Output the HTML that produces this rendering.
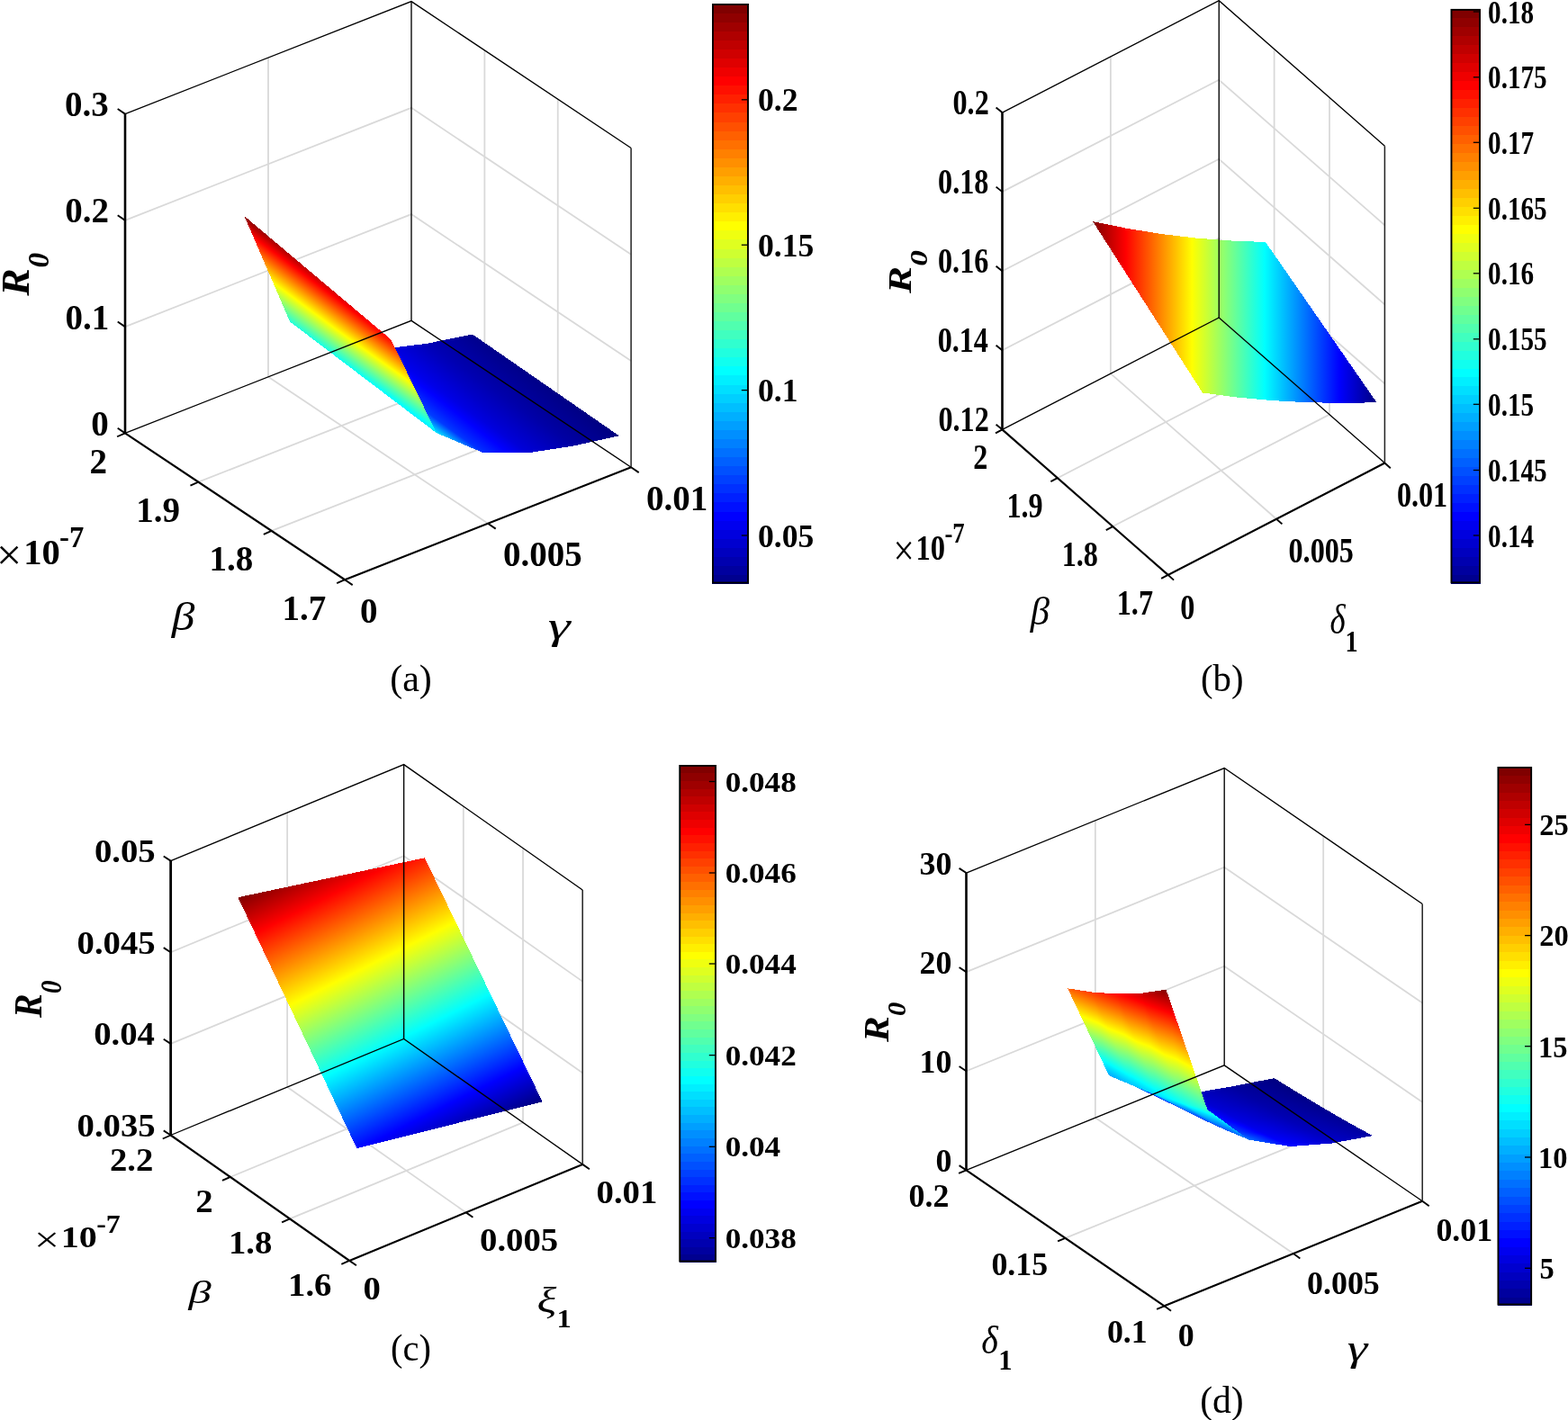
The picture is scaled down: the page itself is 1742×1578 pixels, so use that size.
<!DOCTYPE html>
<html lang="en"><head><meta charset="utf-8"><title>R0 sensitivity surfaces</title>
<style>html,body{margin:0;padding:0;background:#fff;overflow:hidden}svg{display:block}text{white-space:pre}</style></head>
<body>
<svg width="1742" height="1578" viewBox="0 0 1742 1578" font-family="Liberation Serif, serif" fill="#000" style="font-kerning:none">
<defs>
<linearGradient id="g1" gradientUnits="userSpaceOnUse" x1="659.59" y1="469.04" x2="17.05" y2="1225.1"><stop offset="0%" stop-color="#000080"/><stop offset="7.4%" stop-color="#0000cb"/></linearGradient>
<linearGradient id="g2" gradientUnits="userSpaceOnUse" x1="662.72" y1="463.94" x2="-69.32" y2="1365.65"><stop offset="0%" stop-color="#000080"/><stop offset="5.5%" stop-color="#0000b8"/></linearGradient>
<linearGradient id="g3" gradientUnits="userSpaceOnUse" x1="622.19" y1="460.8" x2="206.04" y2="955.04"><stop offset="3.4%" stop-color="#0000a2"/><stop offset="12.5%" stop-color="#0000ff"/><stop offset="13.2%" stop-color="#0007ff"/></linearGradient>
<linearGradient id="g4" gradientUnits="userSpaceOnUse" x1="626.69" y1="453.54" x2="158.23" y2="1032.11"><stop offset="1.5%" stop-color="#00008f"/><stop offset="10.6%" stop-color="#0000ec"/></linearGradient>
<linearGradient id="g5" gradientUnits="userSpaceOnUse" x1="568.45" y1="462.32" x2="379.15" y2="695.73"><stop offset="9.2%" stop-color="#0000dd"/><stop offset="12.5%" stop-color="#0000ff"/><stop offset="23%" stop-color="#006bff"/></linearGradient>
<linearGradient id="g6" gradientUnits="userSpaceOnUse" x1="573.17" y1="454.57" x2="356.6" y2="732.76"><stop offset="6.6%" stop-color="#0000c3"/><stop offset="12.5%" stop-color="#0000ff"/><stop offset="19.3%" stop-color="#0045ff"/></linearGradient>
<linearGradient id="g7" gradientUnits="userSpaceOnUse" x1="495.39" y1="467.92" x2="465.63" y2="505.96"><stop offset="19%" stop-color="#0042ff"/><stop offset="37.5%" stop-color="#00ffff"/><stop offset="43%" stop-color="#38ffc7"/></linearGradient>
<linearGradient id="g8" gradientUnits="userSpaceOnUse" x1="500.41" y1="460.49" x2="456.26" y2="519.83"><stop offset="15.3%" stop-color="#001dff"/><stop offset="36.9%" stop-color="#00f9ff"/></linearGradient>
<linearGradient id="g9" gradientUnits="userSpaceOnUse" x1="376.84" y1="454.59" x2="442.73" y2="365.84"><stop offset="39%" stop-color="#0ffff0"/><stop offset="62.5%" stop-color="#ffff00"/><stop offset="87.5%" stop-color="#ff0000"/><stop offset="100%" stop-color="#800000"/></linearGradient>
<linearGradient id="g10" gradientUnits="userSpaceOnUse" x1="380.79" y1="452.49" x2="442.15" y2="366.15"><stop offset="32.9%" stop-color="#00d0ff"/><stop offset="37.5%" stop-color="#00ffff"/><stop offset="62.5%" stop-color="#ffff00"/><stop offset="87.5%" stop-color="#ff0000"/><stop offset="89.2%" stop-color="#ee0000"/></linearGradient>
<linearGradient id="g11" gradientUnits="userSpaceOnUse" x1="1214" y1="0" x2="1529.5" y2="0"><stop offset="0%" stop-color="#800000"/><stop offset="11.65%" stop-color="#ff0000"/><stop offset="34.96%" stop-color="#ffff00"/><stop offset="60.51%" stop-color="#00ffff"/><stop offset="86.84%" stop-color="#0000ff"/><stop offset="100%" stop-color="#000080"/></linearGradient>
<linearGradient id="g12" gradientUnits="userSpaceOnUse" x1="565.6" y1="1242.98" x2="405.42" y2="925.95"><stop offset="0.6%" stop-color="#000086"/><stop offset="12.5%" stop-color="#0000ff"/><stop offset="37.5%" stop-color="#00ffff"/><stop offset="62.5%" stop-color="#ffff00"/><stop offset="87.5%" stop-color="#ff0000"/><stop offset="89.76%" stop-color="#e80000"/></linearGradient>
<linearGradient id="g13" gradientUnits="userSpaceOnUse" x1="565.58" y1="1243" x2="406.36" y2="925.27"><stop offset="0%" stop-color="#000080"/><stop offset="12.5%" stop-color="#0000ff"/><stop offset="37.5%" stop-color="#00ffff"/><stop offset="62.5%" stop-color="#ffff00"/><stop offset="86.7%" stop-color="#ff0800"/></linearGradient>
<linearGradient id="g14" gradientUnits="userSpaceOnUse" x1="528.5" y1="1261.56" x2="368.44" y2="944.65"><stop offset="3.2%" stop-color="#0000a0"/><stop offset="12.5%" stop-color="#0000ff"/><stop offset="37.5%" stop-color="#00ffff"/><stop offset="62.5%" stop-color="#ffff00"/><stop offset="87.5%" stop-color="#ff0000"/><stop offset="92.82%" stop-color="#c90000"/></linearGradient>
<linearGradient id="g15" gradientUnits="userSpaceOnUse" x1="528.45" y1="1261.6" x2="369.35" y2="944"><stop offset="0.6%" stop-color="#000086"/><stop offset="12.5%" stop-color="#0000ff"/><stop offset="37.5%" stop-color="#00ffff"/><stop offset="62.5%" stop-color="#ffff00"/><stop offset="87.5%" stop-color="#ff0000"/><stop offset="89.76%" stop-color="#e80000"/></linearGradient>
<linearGradient id="g16" gradientUnits="userSpaceOnUse" x1="491.4" y1="1280.13" x2="331.44" y2="963.35"><stop offset="5.8%" stop-color="#0000bb"/><stop offset="12.5%" stop-color="#0000ff"/><stop offset="37.5%" stop-color="#00ffff"/><stop offset="62.5%" stop-color="#ffff00"/><stop offset="87.5%" stop-color="#ff0000"/><stop offset="95.88%" stop-color="#aa0000"/></linearGradient>
<linearGradient id="g17" gradientUnits="userSpaceOnUse" x1="491.32" y1="1280.18" x2="332.32" y2="962.71"><stop offset="3.2%" stop-color="#0000a0"/><stop offset="12.5%" stop-color="#0000ff"/><stop offset="37.5%" stop-color="#00ffff"/><stop offset="62.5%" stop-color="#ffff00"/><stop offset="87.5%" stop-color="#ff0000"/><stop offset="92.82%" stop-color="#c90000"/></linearGradient>
<linearGradient id="g18" gradientUnits="userSpaceOnUse" x1="454.28" y1="1298.69" x2="294.44" y2="982.04"><stop offset="8.4%" stop-color="#0000d5"/><stop offset="12.5%" stop-color="#0000ff"/><stop offset="37.5%" stop-color="#00ffff"/><stop offset="62.5%" stop-color="#ffff00"/><stop offset="87.5%" stop-color="#ff0000"/><stop offset="98.94%" stop-color="#8a0000"/></linearGradient>
<linearGradient id="g19" gradientUnits="userSpaceOnUse" x1="454.19" y1="1298.76" x2="295.29" y2="981.42"><stop offset="5.8%" stop-color="#0000bb"/><stop offset="12.5%" stop-color="#0000ff"/><stop offset="37.5%" stop-color="#00ffff"/><stop offset="62.5%" stop-color="#ffff00"/><stop offset="87.5%" stop-color="#ff0000"/><stop offset="95.88%" stop-color="#aa0000"/></linearGradient>
<linearGradient id="g20" gradientUnits="userSpaceOnUse" x1="417.17" y1="1317.25" x2="257.43" y2="1000.72"><stop offset="11%" stop-color="#0000f0"/><stop offset="12.5%" stop-color="#0000ff"/><stop offset="37.5%" stop-color="#00ffff"/><stop offset="62.5%" stop-color="#ffff00"/><stop offset="87.5%" stop-color="#ff0000"/><stop offset="100%" stop-color="#800000"/></linearGradient>
<linearGradient id="g21" gradientUnits="userSpaceOnUse" x1="417.04" y1="1317.34" x2="258.25" y2="1000.12"><stop offset="8.4%" stop-color="#0000d5"/><stop offset="12.5%" stop-color="#0000ff"/><stop offset="37.5%" stop-color="#00ffff"/><stop offset="62.5%" stop-color="#ffff00"/><stop offset="87.5%" stop-color="#ff0000"/><stop offset="98.94%" stop-color="#8a0000"/></linearGradient>
<linearGradient id="g22" gradientUnits="userSpaceOnUse" x1="1488.78" y1="1232.27" x2="1363.07" y2="1730.09"><stop offset="0.38%" stop-color="#000083"/><stop offset="9.7%" stop-color="#0000e2"/></linearGradient>
<linearGradient id="g23" gradientUnits="userSpaceOnUse" x1="1490.15" y1="1232.07" x2="1346.68" y2="1732.45"><stop offset="0.38%" stop-color="#000083"/><stop offset="9.7%" stop-color="#0000e2"/></linearGradient>
<linearGradient id="g24" gradientUnits="userSpaceOnUse" x1="1461.83" y1="1220.37" x2="1298.91" y2="1791.25"><stop offset="0%" stop-color="#000080"/><stop offset="8.17%" stop-color="#0000d3"/></linearGradient>
<linearGradient id="g25" gradientUnits="userSpaceOnUse" x1="1463.92" y1="1220.28" x2="1267.21" y2="1792.64"><stop offset="0%" stop-color="#000080"/><stop offset="8.17%" stop-color="#0000d3"/></linearGradient>
<linearGradient id="g26" gradientUnits="userSpaceOnUse" x1="1434.37" y1="1207.91" x2="1232.01" y2="1861.88"><stop offset="0%" stop-color="#000080"/><stop offset="6.9%" stop-color="#0000c6"/></linearGradient>
<linearGradient id="g27" gradientUnits="userSpaceOnUse" x1="1436.83" y1="1207.99" x2="1184.18" y2="1860.41"><stop offset="0%" stop-color="#000080"/><stop offset="6.9%" stop-color="#0000c6"/></linearGradient>
<linearGradient id="g28" gradientUnits="userSpaceOnUse" x1="1406.49" y1="1195.09" x2="1161.63" y2="1945.46"><stop offset="0%" stop-color="#000080"/><stop offset="5.82%" stop-color="#0000bb"/></linearGradient>
<linearGradient id="g29" gradientUnits="userSpaceOnUse" x1="1409.12" y1="1195.33" x2="1095.43" y2="1939.61"><stop offset="0%" stop-color="#000080"/><stop offset="5.82%" stop-color="#0000bb"/></linearGradient>
<linearGradient id="g30" gradientUnits="userSpaceOnUse" x1="1443.84" y1="1233.34" x2="1363.87" y2="1539.83"><stop offset="4.17%" stop-color="#0000aa"/><stop offset="12.5%" stop-color="#0000ff"/><stop offset="15.3%" stop-color="#001dff"/></linearGradient>
<linearGradient id="g31" gradientUnits="userSpaceOnUse" x1="1447.83" y1="1232.55" x2="1337.81" y2="1544.96"><stop offset="4.17%" stop-color="#0000aa"/><stop offset="12.5%" stop-color="#0000ff"/><stop offset="15.3%" stop-color="#001dff"/></linearGradient>
<linearGradient id="g32" gradientUnits="userSpaceOnUse" x1="1417.89" y1="1218.36" x2="1311.6" y2="1590.61"><stop offset="2.9%" stop-color="#00009d"/><stop offset="12.5%" stop-color="#0000ff"/><stop offset="13.31%" stop-color="#0008ff"/></linearGradient>
<linearGradient id="g33" gradientUnits="userSpaceOnUse" x1="1421.74" y1="1217.97" x2="1281.4" y2="1593.67"><stop offset="2.9%" stop-color="#00009d"/><stop offset="12.5%" stop-color="#0000ff"/><stop offset="13.31%" stop-color="#0008ff"/></linearGradient>
<linearGradient id="g34" gradientUnits="userSpaceOnUse" x1="1391.52" y1="1203.74" x2="1256.92" y2="1641.42"><stop offset="1.82%" stop-color="#000092"/><stop offset="11.64%" stop-color="#0000f6"/></linearGradient>
<linearGradient id="g35" gradientUnits="userSpaceOnUse" x1="1395.14" y1="1203.65" x2="1223.01" y2="1642.3"><stop offset="1.82%" stop-color="#000092"/><stop offset="11.64%" stop-color="#0000f6"/></linearGradient>
<linearGradient id="g36" gradientUnits="userSpaceOnUse" x1="1364.75" y1="1189.4" x2="1200.22" y2="1692.16"><stop offset="0.9%" stop-color="#000089"/><stop offset="10.22%" stop-color="#0000e8"/></linearGradient>
<linearGradient id="g37" gradientUnits="userSpaceOnUse" x1="1368.08" y1="1189.53" x2="1162.98" y2="1690.81"><stop offset="0.9%" stop-color="#000089"/><stop offset="10.22%" stop-color="#0000e8"/></linearGradient>
<linearGradient id="g38" gradientUnits="userSpaceOnUse" x1="1393.83" y1="1245.65" x2="1366.03" y2="1334.36"><stop offset="9.31%" stop-color="#0000de"/><stop offset="12.5%" stop-color="#0000ff"/><stop offset="25.5%" stop-color="#0085ff"/></linearGradient>
<linearGradient id="g39" gradientUnits="userSpaceOnUse" x1="1396.76" y1="1243.84" x2="1356.52" y2="1340.28"><stop offset="9.31%" stop-color="#0000de"/><stop offset="12.5%" stop-color="#0000ff"/><stop offset="25.5%" stop-color="#0085ff"/></linearGradient>
<linearGradient id="g40" gradientUnits="userSpaceOnUse" x1="1368.77" y1="1229.03" x2="1326.04" y2="1355.66"><stop offset="7.64%" stop-color="#0000cd"/><stop offset="12.5%" stop-color="#0000ff"/><stop offset="22.59%" stop-color="#0067ff"/></linearGradient>
<linearGradient id="g41" gradientUnits="userSpaceOnUse" x1="1371.85" y1="1227.81" x2="1314.17" y2="1360.34"><stop offset="7.64%" stop-color="#0000cd"/><stop offset="12.5%" stop-color="#0000ff"/><stop offset="22.59%" stop-color="#0067ff"/></linearGradient>
<linearGradient id="g42" gradientUnits="userSpaceOnUse" x1="1343.33" y1="1212.68" x2="1284.51" y2="1376.61"><stop offset="6.22%" stop-color="#0000bf"/><stop offset="12.5%" stop-color="#0000ff"/><stop offset="20.15%" stop-color="#004eff"/></linearGradient>
<linearGradient id="g43" gradientUnits="userSpaceOnUse" x1="1346.41" y1="1211.93" x2="1270.59" y2="1380.02"><stop offset="6.22%" stop-color="#0000bf"/><stop offset="12.5%" stop-color="#0000ff"/><stop offset="20.15%" stop-color="#004eff"/></linearGradient>
<linearGradient id="g44" gradientUnits="userSpaceOnUse" x1="1317.51" y1="1196.54" x2="1241.72" y2="1397.19"><stop offset="5%" stop-color="#0000b2"/><stop offset="12.5%" stop-color="#0000ff"/><stop offset="18.08%" stop-color="#0039ff"/></linearGradient>
<linearGradient id="g45" gradientUnits="userSpaceOnUse" x1="1320.53" y1="1196.13" x2="1225.99" y2="1399.33"><stop offset="5%" stop-color="#0000b2"/><stop offset="12.5%" stop-color="#0000ff"/><stop offset="18.08%" stop-color="#0039ff"/></linearGradient>
<linearGradient id="g46" gradientUnits="userSpaceOnUse" x1="1331.91" y1="1259.01" x2="1354.03" y2="1198.38"><stop offset="18.59%" stop-color="#003eff"/><stop offset="37.5%" stop-color="#00ffff"/><stop offset="44.9%" stop-color="#4bffb4"/></linearGradient>
<linearGradient id="g47" gradientUnits="userSpaceOnUse" x1="1331.51" y1="1253.6" x2="1354.56" y2="1205.58"><stop offset="18.59%" stop-color="#003eff"/><stop offset="37.5%" stop-color="#00ffff"/><stop offset="44.9%" stop-color="#4bffb4"/></linearGradient>
<linearGradient id="g48" gradientUnits="userSpaceOnUse" x1="1308.22" y1="1241.25" x2="1323.43" y2="1201.79"><stop offset="16.15%" stop-color="#0025ff"/><stop offset="37.5%" stop-color="#00ffff"/><stop offset="40.49%" stop-color="#1fffe0"/></linearGradient>
<linearGradient id="g49" gradientUnits="userSpaceOnUse" x1="1308.67" y1="1236.99" x2="1322.72" y2="1208.6"><stop offset="16.15%" stop-color="#0025ff"/><stop offset="37.5%" stop-color="#00ffff"/><stop offset="40.49%" stop-color="#1fffe0"/></linearGradient>
<linearGradient id="g50" gradientUnits="userSpaceOnUse" x1="1284.1" y1="1223.75" x2="1291.71" y2="1204.93"><stop offset="14.08%" stop-color="#0010ff"/><stop offset="36.8%" stop-color="#00f8ff"/></linearGradient>
<linearGradient id="g51" gradientUnits="userSpaceOnUse" x1="1285.12" y1="1220.41" x2="1289.8" y2="1211.19"><stop offset="14.08%" stop-color="#0010ff"/><stop offset="36.8%" stop-color="#00f8ff"/></linearGradient>
<linearGradient id="g52" gradientUnits="userSpaceOnUse" x1="1259.6" y1="1206.44" x2="1259.05" y2="1207.73"><stop offset="12.3%" stop-color="#0000fd"/><stop offset="12.5%" stop-color="#0000ff"/><stop offset="33.68%" stop-color="#00d8ff"/></linearGradient>
<linearGradient id="g53" gradientUnits="userSpaceOnUse" x1="1260.98" y1="1203.84" x2="1256.06" y2="1213.32"><stop offset="12.3%" stop-color="#0000fd"/><stop offset="12.5%" stop-color="#0000ff"/><stop offset="33.68%" stop-color="#00d8ff"/></linearGradient>
<linearGradient id="g54" gradientUnits="userSpaceOnUse" x1="1233.54" y1="1272.1" x2="1295.5" y2="1099.6"><stop offset="36.49%" stop-color="#00f5ff"/><stop offset="37.5%" stop-color="#00ffff"/><stop offset="62.5%" stop-color="#ffff00"/><stop offset="87.5%" stop-color="#ff0000"/><stop offset="100%" stop-color="#800000"/></linearGradient>
<linearGradient id="g55" gradientUnits="userSpaceOnUse" x1="1215.16" y1="1243.47" x2="1295.5" y2="1099.6"><stop offset="36.49%" stop-color="#00f5ff"/><stop offset="37.5%" stop-color="#00ffff"/><stop offset="62.5%" stop-color="#ffff00"/><stop offset="87.5%" stop-color="#ff0000"/><stop offset="100%" stop-color="#800000"/></linearGradient>
<linearGradient id="g56" gradientUnits="userSpaceOnUse" x1="1212.8" y1="1253.86" x2="1272.45" y2="1092.16"><stop offset="32.8%" stop-color="#00cfff"/><stop offset="37.5%" stop-color="#00ffff"/><stop offset="62.5%" stop-color="#ffff00"/><stop offset="87.5%" stop-color="#ff0000"/><stop offset="94.83%" stop-color="#b40000"/></linearGradient>
<linearGradient id="g57" gradientUnits="userSpaceOnUse" x1="1197.7" y1="1228.77" x2="1273.62" y2="1094.09"><stop offset="32.8%" stop-color="#00cfff"/><stop offset="37.5%" stop-color="#00ffff"/><stop offset="62.5%" stop-color="#ffff00"/><stop offset="87.5%" stop-color="#ff0000"/><stop offset="94.83%" stop-color="#b40000"/></linearGradient>
<linearGradient id="g58" gradientUnits="userSpaceOnUse" x1="1191.12" y1="1235.56" x2="1248.33" y2="1084.8"><stop offset="29.68%" stop-color="#00afff"/><stop offset="37.5%" stop-color="#00ffff"/><stop offset="62.5%" stop-color="#ffff00"/><stop offset="87.5%" stop-color="#ff0000"/><stop offset="88.93%" stop-color="#f00000"/></linearGradient>
<linearGradient id="g59" gradientUnits="userSpaceOnUse" x1="1178.79" y1="1213.58" x2="1250.18" y2="1088.11"><stop offset="29.68%" stop-color="#00afff"/><stop offset="37.5%" stop-color="#00ffff"/><stop offset="62.5%" stop-color="#ffff00"/><stop offset="87.5%" stop-color="#ff0000"/><stop offset="88.93%" stop-color="#f00000"/></linearGradient>
<linearGradient id="g60" gradientUnits="userSpaceOnUse" x1="1168.69" y1="1217.25" x2="1223.33" y2="1077.46"><stop offset="27%" stop-color="#0094ff"/><stop offset="37.5%" stop-color="#00ffff"/><stop offset="62.5%" stop-color="#ffff00"/><stop offset="84.06%" stop-color="#ff2300"/></linearGradient>
<linearGradient id="g61" gradientUnits="userSpaceOnUse" x1="1158.7" y1="1198.03" x2="1225.51" y2="1081.66"><stop offset="27%" stop-color="#0094ff"/><stop offset="37.5%" stop-color="#00ffff"/><stop offset="62.5%" stop-color="#ffff00"/><stop offset="84.06%" stop-color="#ff2300"/></linearGradient>
</defs>
<line x1="301.73" y1="589.92" x2="619.73" y2="464.92" stroke="#d9d9d9" stroke-width="1.8" stroke-linecap="butt"/>
<line x1="619.73" y1="464.92" x2="619.73" y2="110.17" stroke="#d9d9d9" stroke-width="1.8" stroke-linecap="butt"/>
<line x1="220.37" y1="535.63" x2="538.37" y2="410.63" stroke="#d9d9d9" stroke-width="1.8" stroke-linecap="butt"/>
<line x1="538.37" y1="410.63" x2="538.37" y2="55.88" stroke="#d9d9d9" stroke-width="1.8" stroke-linecap="butt"/>
<line x1="542.1" y1="581.7" x2="298" y2="418.85" stroke="#d9d9d9" stroke-width="1.8" stroke-linecap="butt"/>
<line x1="298" y1="418.85" x2="298" y2="64.1" stroke="#d9d9d9" stroke-width="1.8" stroke-linecap="butt"/>
<polyline points="139,363.1 457,238.1 701.1,400.95" fill="none" stroke="#d9d9d9" stroke-width="1.8" stroke-linejoin="miter"/>
<polyline points="139,244.85 457,119.85 701.1,282.7" fill="none" stroke="#d9d9d9" stroke-width="1.8" stroke-linejoin="miter"/>
<g shape-rendering="crispEdges">
<polygon points="637.1,495.5 474.2,381.8 524.9,371.5" fill="url(#g1)"/>
<polygon points="637.1,495.5 524.9,371.5 687.8,484.3" fill="url(#g2)"/>
<polygon points="586.4,503.3 423.5,388.1 474.2,381.8" fill="url(#g3)"/>
<polygon points="586.4,503.3 474.2,381.8 637.1,495.5" fill="url(#g4)"/>
<polygon points="535.7,502.7 372.8,384.9 423.5,388.1" fill="url(#g5)"/>
<polygon points="535.7,502.7 423.5,388.1 586.4,503.3" fill="url(#g6)"/>
<polygon points="485,481.2 322.1,357.5 372.8,384.9" fill="url(#g7)"/>
<polygon points="485,481.2 372.8,384.9 535.7,502.7" fill="url(#g8)"/>
<polygon points="434.3,377.2 271.4,240 322.1,357.5" fill="url(#g9)"/>
<polygon points="434.3,377.2 322.1,357.5 485,481.2" fill="url(#g10)"/>
</g>
<polyline points="139,481.35 457,356.35 701.1,519.2" fill="none" stroke="#000" stroke-width="1.35" stroke-linejoin="miter"/>
<polyline points="139,126.6 457,1.6 701.1,164.45" fill="none" stroke="#000" stroke-width="1.35" stroke-linejoin="miter"/>
<line x1="457" y1="356.35" x2="457" y2="1.6" stroke="#000" stroke-width="1.35" stroke-linecap="butt"/>
<line x1="701.1" y1="519.2" x2="701.1" y2="164.45" stroke="#222" stroke-width="1.5" stroke-linecap="butt"/>
<line x1="139" y1="481.35" x2="139" y2="126" stroke="#000" stroke-width="2.6" stroke-linecap="butt"/>
<polyline points="139,481.35 383.1,644.2 701.1,519.2" fill="none" stroke="#000" stroke-width="2.2" stroke-linejoin="miter"/>
<line x1="139" y1="481.35" x2="130.7" y2="475.75" stroke="#000" stroke-width="1.9" stroke-linecap="butt"/>
<line x1="139" y1="363.1" x2="130.7" y2="357.5" stroke="#000" stroke-width="1.9" stroke-linecap="butt"/>
<line x1="139" y1="244.85" x2="130.7" y2="239.25" stroke="#000" stroke-width="1.9" stroke-linecap="butt"/>
<line x1="139" y1="126.6" x2="130.7" y2="121" stroke="#000" stroke-width="1.9" stroke-linecap="butt"/>
<line x1="383.1" y1="644.2" x2="374.2" y2="648.1" stroke="#000" stroke-width="1.9" stroke-linecap="butt"/>
<line x1="301.73" y1="589.92" x2="292.83" y2="593.82" stroke="#000" stroke-width="1.9" stroke-linecap="butt"/>
<line x1="220.37" y1="535.63" x2="211.47" y2="539.53" stroke="#000" stroke-width="1.9" stroke-linecap="butt"/>
<line x1="139" y1="481.35" x2="130.1" y2="485.25" stroke="#000" stroke-width="1.9" stroke-linecap="butt"/>
<line x1="383.1" y1="644.2" x2="391.7" y2="650.1" stroke="#000" stroke-width="1.9" stroke-linecap="butt"/>
<line x1="542.1" y1="581.7" x2="550.7" y2="587.6" stroke="#000" stroke-width="1.9" stroke-linecap="butt"/>
<line x1="701.1" y1="519.2" x2="709.7" y2="525.1" stroke="#000" stroke-width="1.9" stroke-linecap="butt"/>
<text transform="translate(101.28 483.75)" font-size="39" font-weight="bold">0</text>
<text transform="translate(72.58 365.5)" font-size="39" font-weight="bold">0.1</text>
<text transform="translate(72.19 247.25)" font-size="39" font-weight="bold">0.2</text>
<text transform="translate(71.88 129)" font-size="39" font-weight="bold">0.3</text>
<text transform="translate(99.44 525.65)" font-size="39" font-weight="bold">2</text>
<text transform="translate(151.32 579.93)" font-size="39" font-weight="bold">1.9</text>
<text transform="translate(232.53 634.22)" font-size="39" font-weight="bold">1.8</text>
<text transform="translate(313.59 688.5)" font-size="39" font-weight="bold">1.7</text>
<text transform="translate(400.02 691.7)" font-size="39" font-weight="bold">0</text>
<text transform="translate(559.02 629.2)" font-size="39" font-weight="bold">0.005</text>
<text transform="translate(718.02 566.7)" font-size="39" font-weight="bold">0.01</text>
<text transform="translate(842.05 123.4)" font-size="35.6" font-weight="bold">0.2</text>
<text transform="translate(842.05 284.8)" font-size="35.6" font-weight="bold">0.15</text>
<text transform="translate(842.05 446.2)" font-size="35.6" font-weight="bold">0.1</text>
<text transform="translate(842.05 607.6)" font-size="35.6" font-weight="bold">0.05</text>
<text transform="translate(-4 633.18) scale(1.052 1)" font-size="47.54" >×</text>
<text transform="translate(26.25 626.6) scale(1.009 1)" font-size="40.24" font-weight="bold">10</text>
<text transform="translate(66.02 608) scale(0.994 1)" font-size="32.87" font-weight="bold">-7</text>
<text transform="translate(190.82 699.74) scale(1.176 1)" font-size="43.67" font-style="italic">β</text>
<text transform="translate(608.86 710.1) scale(1.422 1)" font-size="44.35" font-style="italic">γ</text>
<text transform="translate(32.4 328.81) rotate(-90) scale(1.035 1)" font-size="44.19" font-weight="bold" font-style="italic">R</text>
<text transform="translate(54.46 297.43) rotate(-90) scale(0.986 1)" font-size="33.73" font-weight="bold" font-style="italic">0</text>
<text transform="translate(433.15 767.9) scale(1.014 1)" font-size="41.5" >(a)</text>
<g shape-rendering="crispEdges"><rect x="791.3" y="638.43" width="40.3" height="10.67" fill="#00008f"/><rect x="791.3" y="628.36" width="40.3" height="10.67" fill="#00009f"/><rect x="791.3" y="618.29" width="40.3" height="10.67" fill="#0000af"/><rect x="791.3" y="608.22" width="40.3" height="10.67" fill="#0000bf"/><rect x="791.3" y="598.15" width="40.3" height="10.67" fill="#0000cf"/><rect x="791.3" y="588.08" width="40.3" height="10.67" fill="#0000df"/><rect x="791.3" y="578.01" width="40.3" height="10.67" fill="#0000ef"/><rect x="791.3" y="567.94" width="40.3" height="10.67" fill="#0000ff"/><rect x="791.3" y="557.87" width="40.3" height="10.67" fill="#0010ff"/><rect x="791.3" y="547.8" width="40.3" height="10.67" fill="#0020ff"/><rect x="791.3" y="537.73" width="40.3" height="10.67" fill="#0030ff"/><rect x="791.3" y="527.66" width="40.3" height="10.67" fill="#0040ff"/><rect x="791.3" y="517.59" width="40.3" height="10.67" fill="#0050ff"/><rect x="791.3" y="507.52" width="40.3" height="10.67" fill="#0060ff"/><rect x="791.3" y="497.45" width="40.3" height="10.67" fill="#0070ff"/><rect x="791.3" y="487.38" width="40.3" height="10.67" fill="#0080ff"/><rect x="791.3" y="477.3" width="40.3" height="10.67" fill="#008fff"/><rect x="791.3" y="467.23" width="40.3" height="10.67" fill="#009fff"/><rect x="791.3" y="457.16" width="40.3" height="10.67" fill="#00afff"/><rect x="791.3" y="447.09" width="40.3" height="10.67" fill="#00bfff"/><rect x="791.3" y="437.02" width="40.3" height="10.67" fill="#00cfff"/><rect x="791.3" y="426.95" width="40.3" height="10.67" fill="#00dfff"/><rect x="791.3" y="416.88" width="40.3" height="10.67" fill="#00efff"/><rect x="791.3" y="406.81" width="40.3" height="10.67" fill="#00ffff"/><rect x="791.3" y="396.74" width="40.3" height="10.67" fill="#10ffef"/><rect x="791.3" y="386.67" width="40.3" height="10.67" fill="#20ffdf"/><rect x="791.3" y="376.6" width="40.3" height="10.67" fill="#30ffcf"/><rect x="791.3" y="366.53" width="40.3" height="10.67" fill="#40ffbf"/><rect x="791.3" y="356.46" width="40.3" height="10.67" fill="#50ffaf"/><rect x="791.3" y="346.39" width="40.3" height="10.67" fill="#60ff9f"/><rect x="791.3" y="336.32" width="40.3" height="10.67" fill="#70ff8f"/><rect x="791.3" y="326.25" width="40.3" height="10.67" fill="#80ff80"/><rect x="791.3" y="316.18" width="40.3" height="10.67" fill="#8fff70"/><rect x="791.3" y="306.11" width="40.3" height="10.67" fill="#9fff60"/><rect x="791.3" y="296.04" width="40.3" height="10.67" fill="#afff50"/><rect x="791.3" y="285.97" width="40.3" height="10.67" fill="#bfff40"/><rect x="791.3" y="275.9" width="40.3" height="10.67" fill="#cfff30"/><rect x="791.3" y="265.83" width="40.3" height="10.67" fill="#dfff20"/><rect x="791.3" y="255.76" width="40.3" height="10.67" fill="#efff10"/><rect x="791.3" y="245.69" width="40.3" height="10.67" fill="#ffff00"/><rect x="791.3" y="235.62" width="40.3" height="10.67" fill="#ffef00"/><rect x="791.3" y="225.55" width="40.3" height="10.67" fill="#ffdf00"/><rect x="791.3" y="215.48" width="40.3" height="10.67" fill="#ffcf00"/><rect x="791.3" y="205.41" width="40.3" height="10.67" fill="#ffbf00"/><rect x="791.3" y="195.34" width="40.3" height="10.67" fill="#ffaf00"/><rect x="791.3" y="185.27" width="40.3" height="10.67" fill="#ff9f00"/><rect x="791.3" y="175.2" width="40.3" height="10.67" fill="#ff8f00"/><rect x="791.3" y="165.12" width="40.3" height="10.67" fill="#ff8000"/><rect x="791.3" y="155.05" width="40.3" height="10.67" fill="#ff7000"/><rect x="791.3" y="144.98" width="40.3" height="10.67" fill="#ff6000"/><rect x="791.3" y="134.91" width="40.3" height="10.67" fill="#ff5000"/><rect x="791.3" y="124.84" width="40.3" height="10.67" fill="#ff4000"/><rect x="791.3" y="114.77" width="40.3" height="10.67" fill="#ff3000"/><rect x="791.3" y="104.7" width="40.3" height="10.67" fill="#ff2000"/><rect x="791.3" y="94.63" width="40.3" height="10.67" fill="#ff1000"/><rect x="791.3" y="84.56" width="40.3" height="10.67" fill="#ff0000"/><rect x="791.3" y="74.49" width="40.3" height="10.67" fill="#ef0000"/><rect x="791.3" y="64.42" width="40.3" height="10.67" fill="#df0000"/><rect x="791.3" y="54.35" width="40.3" height="10.67" fill="#cf0000"/><rect x="791.3" y="44.28" width="40.3" height="10.67" fill="#bf0000"/><rect x="791.3" y="34.21" width="40.3" height="10.67" fill="#af0000"/><rect x="791.3" y="24.14" width="40.3" height="10.67" fill="#9f0000"/><rect x="791.3" y="14.07" width="40.3" height="10.67" fill="#8f0000"/><rect x="791.3" y="4" width="40.3" height="10.67" fill="#800000"/></g>
<rect x="791.95" y="4.95" width="39" height="642.6" fill="none" stroke="#000" stroke-width="1.9"/>
<line x1="823.8" y1="110.8" x2="830.95" y2="110.8" stroke="#000" stroke-width="1.3" stroke-linecap="butt"/>
<line x1="823.8" y1="272.2" x2="830.95" y2="272.2" stroke="#000" stroke-width="1.3" stroke-linecap="butt"/>
<line x1="823.8" y1="433.6" x2="830.95" y2="433.6" stroke="#000" stroke-width="1.3" stroke-linecap="butt"/>
<line x1="823.8" y1="595" x2="830.95" y2="595" stroke="#000" stroke-width="1.3" stroke-linecap="butt"/>
<line x1="1236.27" y1="585.05" x2="1477.02" y2="460.65" stroke="#d9d9d9" stroke-width="1.8" stroke-linecap="butt"/>
<line x1="1477.02" y1="460.65" x2="1477.02" y2="108.35" stroke="#d9d9d9" stroke-width="1.8" stroke-linecap="butt"/>
<line x1="1174.88" y1="531.2" x2="1415.63" y2="406.8" stroke="#d9d9d9" stroke-width="1.8" stroke-linecap="butt"/>
<line x1="1415.63" y1="406.8" x2="1415.63" y2="54.5" stroke="#d9d9d9" stroke-width="1.8" stroke-linecap="butt"/>
<line x1="1418.03" y1="576.7" x2="1233.88" y2="415.15" stroke="#d9d9d9" stroke-width="1.8" stroke-linecap="butt"/>
<line x1="1233.88" y1="415.15" x2="1233.88" y2="62.85" stroke="#d9d9d9" stroke-width="1.8" stroke-linecap="butt"/>
<polyline points="1113.5,389.28 1354.25,264.88 1538.4,426.43" fill="none" stroke="#d9d9d9" stroke-width="1.8" stroke-linejoin="miter"/>
<polyline points="1113.5,301.2 1354.25,176.8 1538.4,338.35" fill="none" stroke="#d9d9d9" stroke-width="1.8" stroke-linejoin="miter"/>
<polyline points="1113.5,213.12 1354.25,88.73 1538.4,250.27" fill="none" stroke="#d9d9d9" stroke-width="1.8" stroke-linejoin="miter"/>
<polygon shape-rendering="crispEdges" points="1214,246 1252.4,253.9 1290.8,260.1 1329.2,264.6 1367.6,267.5 1406,269 1529.5,447.3 1490.8,447.9 1452.1,447.2 1413.4,445.1 1374.7,441.6 1336,436.5" fill="url(#g11)"/>
<polyline points="1113.5,477.35 1354.25,352.95 1538.4,514.5" fill="none" stroke="#000" stroke-width="1.35" stroke-linejoin="miter"/>
<polyline points="1113.5,125.05 1354.25,0.65 1538.4,162.2" fill="none" stroke="#000" stroke-width="1.35" stroke-linejoin="miter"/>
<line x1="1354.25" y1="352.95" x2="1354.25" y2="0.65" stroke="#000" stroke-width="1.35" stroke-linecap="butt"/>
<line x1="1538.4" y1="514.5" x2="1538.4" y2="162.2" stroke="#222" stroke-width="1.5" stroke-linecap="butt"/>
<line x1="1113.5" y1="477.35" x2="1113.5" y2="124.45" stroke="#000" stroke-width="2.6" stroke-linecap="butt"/>
<polyline points="1113.5,477.35 1297.65,638.9 1538.4,514.5" fill="none" stroke="#000" stroke-width="2.2" stroke-linejoin="miter"/>
<line x1="1113.5" y1="477.35" x2="1106.6" y2="471.85" stroke="#000" stroke-width="1.9" stroke-linecap="butt"/>
<line x1="1113.5" y1="389.28" x2="1106.6" y2="383.78" stroke="#000" stroke-width="1.9" stroke-linecap="butt"/>
<line x1="1113.5" y1="301.2" x2="1106.6" y2="295.7" stroke="#000" stroke-width="1.9" stroke-linecap="butt"/>
<line x1="1113.5" y1="213.12" x2="1106.6" y2="207.62" stroke="#000" stroke-width="1.9" stroke-linecap="butt"/>
<line x1="1113.5" y1="125.05" x2="1106.6" y2="119.55" stroke="#000" stroke-width="1.9" stroke-linecap="butt"/>
<line x1="1297.65" y1="638.9" x2="1290.15" y2="642.9" stroke="#000" stroke-width="1.9" stroke-linecap="butt"/>
<line x1="1236.27" y1="585.05" x2="1228.77" y2="589.05" stroke="#000" stroke-width="1.9" stroke-linecap="butt"/>
<line x1="1174.88" y1="531.2" x2="1167.38" y2="535.2" stroke="#000" stroke-width="1.9" stroke-linecap="butt"/>
<line x1="1113.5" y1="477.35" x2="1106" y2="481.35" stroke="#000" stroke-width="1.9" stroke-linecap="butt"/>
<line x1="1297.65" y1="638.9" x2="1304.05" y2="644.6" stroke="#000" stroke-width="1.9" stroke-linecap="butt"/>
<line x1="1418.03" y1="576.7" x2="1424.43" y2="582.4" stroke="#000" stroke-width="1.9" stroke-linecap="butt"/>
<line x1="1538.4" y1="514.5" x2="1544.8" y2="520.2" stroke="#000" stroke-width="1.9" stroke-linecap="butt"/>
<text transform="translate(1042.42 478.95) scale(0.815 1.000)" font-size="39.5" font-weight="bold">0.12</text>
<text transform="translate(1041.64 390.88) scale(0.815 1.000)" font-size="39.5" font-weight="bold">0.14</text>
<text transform="translate(1042.03 302.8) scale(0.815 1.000)" font-size="39.5" font-weight="bold">0.16</text>
<text transform="translate(1042.09 214.72) scale(0.815 1.000)" font-size="39.5" font-weight="bold">0.18</text>
<text transform="translate(1058.51 126.65) scale(0.815 1.000)" font-size="39.5" font-weight="bold">0.2</text>
<text transform="translate(1081.36 521.25) scale(0.815 1.000)" font-size="39.5" font-weight="bold">2</text>
<text transform="translate(1118.4 575.1) scale(0.815 1.000)" font-size="39.5" font-weight="bold">1.9</text>
<text transform="translate(1179.66 628.95) scale(0.815 1.000)" font-size="39.5" font-weight="bold">1.8</text>
<text transform="translate(1240.78 682.8) scale(0.815 1.000)" font-size="39.5" font-weight="bold">1.7</text>
<text transform="translate(1311.13 687.6) scale(0.815 1.000)" font-size="39.5" font-weight="bold">0</text>
<text transform="translate(1431.5 625.4) scale(0.815 1.000)" font-size="39.5" font-weight="bold">0.005</text>
<text transform="translate(1551.88 563.2) scale(0.815 1.000)" font-size="39.5" font-weight="bold">0.01</text>
<text transform="translate(1653.09 25.5) scale(0.810 1.000)" font-size="36" font-weight="bold">0.18</text>
<text transform="translate(1653.09 98.3) scale(0.810 1.000)" font-size="36" font-weight="bold">0.175</text>
<text transform="translate(1653.09 170.8) scale(0.810 1.000)" font-size="36" font-weight="bold">0.17</text>
<text transform="translate(1653.09 243.8) scale(0.810 1.000)" font-size="36" font-weight="bold">0.165</text>
<text transform="translate(1653.09 316.3) scale(0.810 1.000)" font-size="36" font-weight="bold">0.16</text>
<text transform="translate(1653.09 389.3) scale(0.810 1.000)" font-size="36" font-weight="bold">0.155</text>
<text transform="translate(1653.09 461.8) scale(0.810 1.000)" font-size="36" font-weight="bold">0.15</text>
<text transform="translate(1653.09 535) scale(0.810 1.000)" font-size="36" font-weight="bold">0.145</text>
<text transform="translate(1653.09 607.5) scale(0.810 1.000)" font-size="36" font-weight="bold">0.14</text>
<text transform="translate(992.61 628.44) scale(0.856 1)" font-size="48.03" >×</text>
<text transform="translate(1017.4 621.81) scale(0.824 1)" font-size="39.5" font-weight="bold">10</text>
<text transform="translate(1049.44 603.3) scale(0.821 1)" font-size="32.57" font-weight="bold">-7</text>
<text transform="translate(1144.68 694.03) scale(0.985 1)" font-size="43.23" font-style="italic">β</text>
<text transform="translate(1477.5 704.34) scale(0.795 1)" font-size="46.33" font-style="italic">δ</text>
<text transform="translate(1494.54 724.4) scale(0.833 1)" font-size="33.94" font-weight="bold">1</text>
<text transform="translate(1011.9 325.91) rotate(-90) scale(1.239 1)" font-size="36.39" font-weight="bold" font-style="italic">R</text>
<text transform="translate(1029.92 295.8) rotate(-90) scale(1.268 1)" font-size="27.81" font-weight="bold" font-style="italic">0</text>
<text transform="translate(1334.01 767.9) scale(0.982 1)" font-size="41.5" >(b)</text>
<g shape-rendering="crispEdges"><rect x="1611.8" y="638.32" width="32.8" height="10.58" fill="#00008f"/><rect x="1611.8" y="628.35" width="32.8" height="10.58" fill="#00009f"/><rect x="1611.8" y="618.38" width="32.8" height="10.57" fill="#0000af"/><rect x="1611.8" y="608.4" width="32.8" height="10.58" fill="#0000bf"/><rect x="1611.8" y="598.42" width="32.8" height="10.58" fill="#0000cf"/><rect x="1611.8" y="588.45" width="32.8" height="10.58" fill="#0000df"/><rect x="1611.8" y="578.47" width="32.8" height="10.58" fill="#0000ef"/><rect x="1611.8" y="568.5" width="32.8" height="10.57" fill="#0000ff"/><rect x="1611.8" y="558.52" width="32.8" height="10.58" fill="#0010ff"/><rect x="1611.8" y="548.55" width="32.8" height="10.58" fill="#0020ff"/><rect x="1611.8" y="538.57" width="32.8" height="10.58" fill="#0030ff"/><rect x="1611.8" y="528.6" width="32.8" height="10.58" fill="#0040ff"/><rect x="1611.8" y="518.62" width="32.8" height="10.57" fill="#0050ff"/><rect x="1611.8" y="508.65" width="32.8" height="10.58" fill="#0060ff"/><rect x="1611.8" y="498.67" width="32.8" height="10.58" fill="#0070ff"/><rect x="1611.8" y="488.7" width="32.8" height="10.58" fill="#0080ff"/><rect x="1611.8" y="478.72" width="32.8" height="10.57" fill="#008fff"/><rect x="1611.8" y="468.75" width="32.8" height="10.57" fill="#009fff"/><rect x="1611.8" y="458.77" width="32.8" height="10.58" fill="#00afff"/><rect x="1611.8" y="448.8" width="32.8" height="10.58" fill="#00bfff"/><rect x="1611.8" y="438.82" width="32.8" height="10.58" fill="#00cfff"/><rect x="1611.8" y="428.85" width="32.8" height="10.57" fill="#00dfff"/><rect x="1611.8" y="418.88" width="32.8" height="10.57" fill="#00efff"/><rect x="1611.8" y="408.9" width="32.8" height="10.58" fill="#00ffff"/><rect x="1611.8" y="398.92" width="32.8" height="10.58" fill="#10ffef"/><rect x="1611.8" y="388.95" width="32.8" height="10.57" fill="#20ffdf"/><rect x="1611.8" y="378.97" width="32.8" height="10.58" fill="#30ffcf"/><rect x="1611.8" y="369" width="32.8" height="10.58" fill="#40ffbf"/><rect x="1611.8" y="359.02" width="32.8" height="10.57" fill="#50ffaf"/><rect x="1611.8" y="349.05" width="32.8" height="10.58" fill="#60ff9f"/><rect x="1611.8" y="339.07" width="32.8" height="10.57" fill="#70ff8f"/><rect x="1611.8" y="329.1" width="32.8" height="10.58" fill="#80ff80"/><rect x="1611.8" y="319.12" width="32.8" height="10.58" fill="#8fff70"/><rect x="1611.8" y="309.15" width="32.8" height="10.57" fill="#9fff60"/><rect x="1611.8" y="299.17" width="32.8" height="10.58" fill="#afff50"/><rect x="1611.8" y="289.2" width="32.8" height="10.57" fill="#bfff40"/><rect x="1611.8" y="279.22" width="32.8" height="10.58" fill="#cfff30"/><rect x="1611.8" y="269.25" width="32.8" height="10.58" fill="#dfff20"/><rect x="1611.8" y="259.27" width="32.8" height="10.57" fill="#efff10"/><rect x="1611.8" y="249.3" width="32.8" height="10.58" fill="#ffff00"/><rect x="1611.8" y="239.32" width="32.8" height="10.57" fill="#ffef00"/><rect x="1611.8" y="229.35" width="32.8" height="10.58" fill="#ffdf00"/><rect x="1611.8" y="219.37" width="32.8" height="10.58" fill="#ffcf00"/><rect x="1611.8" y="209.4" width="32.8" height="10.57" fill="#ffbf00"/><rect x="1611.8" y="199.42" width="32.8" height="10.58" fill="#ffaf00"/><rect x="1611.8" y="189.45" width="32.8" height="10.57" fill="#ff9f00"/><rect x="1611.8" y="179.47" width="32.8" height="10.58" fill="#ff8f00"/><rect x="1611.8" y="169.5" width="32.8" height="10.57" fill="#ff8000"/><rect x="1611.8" y="159.52" width="32.8" height="10.58" fill="#ff7000"/><rect x="1611.8" y="149.55" width="32.8" height="10.58" fill="#ff6000"/><rect x="1611.8" y="139.57" width="32.8" height="10.57" fill="#ff5000"/><rect x="1611.8" y="129.6" width="32.8" height="10.57" fill="#ff4000"/><rect x="1611.8" y="119.62" width="32.8" height="10.58" fill="#ff3000"/><rect x="1611.8" y="109.65" width="32.8" height="10.58" fill="#ff2000"/><rect x="1611.8" y="99.67" width="32.8" height="10.58" fill="#ff1000"/><rect x="1611.8" y="89.7" width="32.8" height="10.58" fill="#ff0000"/><rect x="1611.8" y="79.73" width="32.8" height="10.57" fill="#ef0000"/><rect x="1611.8" y="69.75" width="32.8" height="10.58" fill="#df0000"/><rect x="1611.8" y="59.77" width="32.8" height="10.58" fill="#cf0000"/><rect x="1611.8" y="49.8" width="32.8" height="10.58" fill="#bf0000"/><rect x="1611.8" y="39.82" width="32.8" height="10.58" fill="#af0000"/><rect x="1611.8" y="29.85" width="32.8" height="10.57" fill="#9f0000"/><rect x="1611.8" y="19.88" width="32.8" height="10.58" fill="#8f0000"/><rect x="1611.8" y="9.9" width="32.8" height="10.58" fill="#800000"/></g>
<rect x="1612.45" y="10.85" width="31.5" height="636.5" fill="none" stroke="#000" stroke-width="1.9"/>
<line x1="1636.8" y1="13" x2="1643.95" y2="13" stroke="#000" stroke-width="1.3" stroke-linecap="butt"/>
<line x1="1636.8" y1="85.8" x2="1643.95" y2="85.8" stroke="#000" stroke-width="1.3" stroke-linecap="butt"/>
<line x1="1636.8" y1="158.3" x2="1643.95" y2="158.3" stroke="#000" stroke-width="1.3" stroke-linecap="butt"/>
<line x1="1636.8" y1="231.3" x2="1643.95" y2="231.3" stroke="#000" stroke-width="1.3" stroke-linecap="butt"/>
<line x1="1636.8" y1="303.8" x2="1643.95" y2="303.8" stroke="#000" stroke-width="1.3" stroke-linecap="butt"/>
<line x1="1636.8" y1="376.8" x2="1643.95" y2="376.8" stroke="#000" stroke-width="1.3" stroke-linecap="butt"/>
<line x1="1636.8" y1="449.3" x2="1643.95" y2="449.3" stroke="#000" stroke-width="1.3" stroke-linecap="butt"/>
<line x1="1636.8" y1="522.5" x2="1643.95" y2="522.5" stroke="#000" stroke-width="1.3" stroke-linecap="butt"/>
<line x1="1636.8" y1="595" x2="1643.95" y2="595" stroke="#000" stroke-width="1.3" stroke-linecap="butt"/>
<line x1="322.02" y1="1354.43" x2="581.02" y2="1247.43" stroke="#d9d9d9" stroke-width="1.8" stroke-linecap="butt"/>
<line x1="581.02" y1="1247.43" x2="581.02" y2="942.53" stroke="#d9d9d9" stroke-width="1.8" stroke-linecap="butt"/>
<line x1="255.83" y1="1307.97" x2="514.83" y2="1200.97" stroke="#d9d9d9" stroke-width="1.8" stroke-linecap="butt"/>
<line x1="514.83" y1="1200.97" x2="514.83" y2="896.07" stroke="#d9d9d9" stroke-width="1.8" stroke-linecap="butt"/>
<line x1="517.7" y1="1347.4" x2="319.15" y2="1208" stroke="#d9d9d9" stroke-width="1.8" stroke-linecap="butt"/>
<line x1="319.15" y1="1208" x2="319.15" y2="903.1" stroke="#d9d9d9" stroke-width="1.8" stroke-linecap="butt"/>
<polyline points="189.65,1159.87 448.65,1052.87 647.2,1192.27" fill="none" stroke="#d9d9d9" stroke-width="1.8" stroke-linejoin="miter"/>
<polyline points="189.65,1058.23 448.65,951.23 647.2,1090.63" fill="none" stroke="#d9d9d9" stroke-width="1.8" stroke-linejoin="miter"/>
<g shape-rendering="crispEdges">
<polygon points="561.44,1234.74 430.32,962.08 471.8,953.3" fill="url(#g12)"/>
<polygon points="561.44,1234.74 471.8,953.3 602.7,1224.4" fill="url(#g13)"/>
<polygon points="520.18,1245.08 388.84,970.86 430.32,962.08" fill="url(#g14)"/>
<polygon points="520.18,1245.08 430.32,962.08 561.44,1234.74" fill="url(#g15)"/>
<polygon points="478.92,1255.42 347.36,979.64 388.84,970.86" fill="url(#g16)"/>
<polygon points="478.92,1255.42 388.84,970.86 520.18,1245.08" fill="url(#g17)"/>
<polygon points="437.66,1265.76 305.88,988.42 347.36,979.64" fill="url(#g18)"/>
<polygon points="437.66,1265.76 347.36,979.64 478.92,1255.42" fill="url(#g19)"/>
<polygon points="396.4,1276.1 264.4,997.2 305.88,988.42" fill="url(#g20)"/>
<polygon points="396.4,1276.1 305.88,988.42 437.66,1265.76" fill="url(#g21)"/>
</g>
<polyline points="189.65,1261.5 448.65,1154.5 647.2,1293.9" fill="none" stroke="#000" stroke-width="1.35" stroke-linejoin="miter"/>
<polyline points="189.65,956.6 448.65,849.6 647.2,989" fill="none" stroke="#000" stroke-width="1.35" stroke-linejoin="miter"/>
<line x1="448.65" y1="1154.5" x2="448.65" y2="849.6" stroke="#000" stroke-width="1.35" stroke-linecap="butt"/>
<line x1="647.2" y1="1293.9" x2="647.2" y2="989" stroke="#222" stroke-width="1.5" stroke-linecap="butt"/>
<line x1="189.65" y1="1261.5" x2="189.65" y2="956" stroke="#000" stroke-width="2.8" stroke-linecap="butt"/>
<polyline points="189.65,1261.5 388.2,1400.9 647.2,1293.9" fill="none" stroke="#000" stroke-width="2.2" stroke-linejoin="miter"/>
<line x1="189.65" y1="1261.5" x2="181.75" y2="1256.4" stroke="#000" stroke-width="1.9" stroke-linecap="butt"/>
<line x1="189.65" y1="1159.87" x2="181.75" y2="1154.77" stroke="#000" stroke-width="1.9" stroke-linecap="butt"/>
<line x1="189.65" y1="1058.23" x2="181.75" y2="1053.13" stroke="#000" stroke-width="1.9" stroke-linecap="butt"/>
<line x1="189.65" y1="956.6" x2="181.75" y2="951.5" stroke="#000" stroke-width="1.9" stroke-linecap="butt"/>
<line x1="388.2" y1="1400.9" x2="379.3" y2="1404.9" stroke="#000" stroke-width="1.9" stroke-linecap="butt"/>
<line x1="322.02" y1="1354.43" x2="313.12" y2="1358.43" stroke="#000" stroke-width="1.9" stroke-linecap="butt"/>
<line x1="255.83" y1="1307.97" x2="246.93" y2="1311.97" stroke="#000" stroke-width="1.9" stroke-linecap="butt"/>
<line x1="189.65" y1="1261.5" x2="180.75" y2="1265.5" stroke="#000" stroke-width="1.9" stroke-linecap="butt"/>
<line x1="388.2" y1="1400.9" x2="395.9" y2="1406.2" stroke="#000" stroke-width="1.9" stroke-linecap="butt"/>
<line x1="517.7" y1="1347.4" x2="525.4" y2="1352.7" stroke="#000" stroke-width="1.9" stroke-linecap="butt"/>
<line x1="647.2" y1="1293.9" x2="654.9" y2="1299.2" stroke="#000" stroke-width="1.9" stroke-linecap="butt"/>
<text transform="translate(85.54 1262.8) scale(1.085 1.000)" font-size="35.7" font-weight="bold">0.035</text>
<text transform="translate(104.21 1161.17) scale(1.085 1.000)" font-size="35.7" font-weight="bold">0.04</text>
<text transform="translate(85.54 1059.53) scale(1.085 1.000)" font-size="35.7" font-weight="bold">0.045</text>
<text transform="translate(104.91 957.9) scale(1.085 1.000)" font-size="35.7" font-weight="bold">0.05</text>
<text transform="translate(121.96 1300.5) scale(1.085 1.000)" font-size="35.7" font-weight="bold">2.2</text>
<text transform="translate(217.19 1346.97) scale(1.085 1.000)" font-size="35.7" font-weight="bold">2</text>
<text transform="translate(253.94 1393.43) scale(1.085 1.000)" font-size="35.7" font-weight="bold">1.8</text>
<text transform="translate(320.04 1439.9) scale(1.085 1.000)" font-size="35.7" font-weight="bold">1.6</text>
<text transform="translate(403.53 1443.9) scale(1.085 1.000)" font-size="35.7" font-weight="bold">0</text>
<text transform="translate(533.03 1390.4) scale(1.085 1.000)" font-size="35.7" font-weight="bold">0.005</text>
<text transform="translate(662.53 1336.9) scale(1.085 1.000)" font-size="35.7" font-weight="bold">0.01</text>
<text transform="translate(805.66 879.5) scale(1.120 1.000)" font-size="31.4" font-weight="bold">0.048</text>
<text transform="translate(805.66 981) scale(1.120 1.000)" font-size="31.4" font-weight="bold">0.046</text>
<text transform="translate(805.66 1082) scale(1.120 1.000)" font-size="31.4" font-weight="bold">0.044</text>
<text transform="translate(805.66 1183.6) scale(1.120 1.000)" font-size="31.4" font-weight="bold">0.042</text>
<text transform="translate(805.66 1285.3) scale(1.120 1.000)" font-size="31.4" font-weight="bold">0.04</text>
<text transform="translate(805.66 1386.7) scale(1.120 1.000)" font-size="31.4" font-weight="bold">0.038</text>
<text transform="translate(38.02 1391.35) scale(1.232 1)" font-size="40.39" >×</text>
<text transform="translate(67.79 1385.75) scale(1.159 1)" font-size="34.62" font-weight="bold">10</text>
<text transform="translate(107.16 1370.3) scale(1.100 1)" font-size="28.9" font-weight="bold">-7</text>
<text transform="translate(209.51 1448.45) scale(1.383 1)" font-size="36.57" font-style="italic">β</text>
<text transform="translate(596.47 1458.03) scale(1.264 1)" font-size="40.16" font-style="italic">ξ</text>
<text transform="translate(618.39 1475.1) scale(1.098 1)" font-size="29.7" font-weight="bold">1</text>
<text transform="translate(46.1 1130.92) rotate(-90) scale(0.918 1)" font-size="43.58" font-weight="bold" font-style="italic">R</text>
<text transform="translate(67.56 1103.88) rotate(-90) scale(0.857 1)" font-size="33.58" font-weight="bold" font-style="italic">0</text>
<text transform="translate(434.02 1512.3) scale(0.976 1)" font-size="41.5" >(c)</text>
<g shape-rendering="crispEdges"><rect x="754.6" y="1393.87" width="41" height="9.23" fill="#00008f"/><rect x="754.6" y="1385.23" width="41" height="9.23" fill="#00009f"/><rect x="754.6" y="1376.6" width="41" height="9.23" fill="#0000af"/><rect x="754.6" y="1367.97" width="41" height="9.23" fill="#0000bf"/><rect x="754.6" y="1359.34" width="41" height="9.23" fill="#0000cf"/><rect x="754.6" y="1350.7" width="41" height="9.23" fill="#0000df"/><rect x="754.6" y="1342.07" width="41" height="9.23" fill="#0000ef"/><rect x="754.6" y="1333.44" width="41" height="9.23" fill="#0000ff"/><rect x="754.6" y="1324.8" width="41" height="9.23" fill="#0010ff"/><rect x="754.6" y="1316.17" width="41" height="9.23" fill="#0020ff"/><rect x="754.6" y="1307.54" width="41" height="9.23" fill="#0030ff"/><rect x="754.6" y="1298.91" width="41" height="9.23" fill="#0040ff"/><rect x="754.6" y="1290.27" width="41" height="9.23" fill="#0050ff"/><rect x="754.6" y="1281.64" width="41" height="9.23" fill="#0060ff"/><rect x="754.6" y="1273.01" width="41" height="9.23" fill="#0070ff"/><rect x="754.6" y="1264.38" width="41" height="9.23" fill="#0080ff"/><rect x="754.6" y="1255.74" width="41" height="9.23" fill="#008fff"/><rect x="754.6" y="1247.11" width="41" height="9.23" fill="#009fff"/><rect x="754.6" y="1238.48" width="41" height="9.23" fill="#00afff"/><rect x="754.6" y="1229.84" width="41" height="9.23" fill="#00bfff"/><rect x="754.6" y="1221.21" width="41" height="9.23" fill="#00cfff"/><rect x="754.6" y="1212.58" width="41" height="9.23" fill="#00dfff"/><rect x="754.6" y="1203.95" width="41" height="9.23" fill="#00efff"/><rect x="754.6" y="1195.31" width="41" height="9.23" fill="#00ffff"/><rect x="754.6" y="1186.68" width="41" height="9.23" fill="#10ffef"/><rect x="754.6" y="1178.05" width="41" height="9.23" fill="#20ffdf"/><rect x="754.6" y="1169.41" width="41" height="9.23" fill="#30ffcf"/><rect x="754.6" y="1160.78" width="41" height="9.23" fill="#40ffbf"/><rect x="754.6" y="1152.15" width="41" height="9.23" fill="#50ffaf"/><rect x="754.6" y="1143.52" width="41" height="9.23" fill="#60ff9f"/><rect x="754.6" y="1134.88" width="41" height="9.23" fill="#70ff8f"/><rect x="754.6" y="1126.25" width="41" height="9.23" fill="#80ff80"/><rect x="754.6" y="1117.62" width="41" height="9.23" fill="#8fff70"/><rect x="754.6" y="1108.98" width="41" height="9.23" fill="#9fff60"/><rect x="754.6" y="1100.35" width="41" height="9.23" fill="#afff50"/><rect x="754.6" y="1091.72" width="41" height="9.23" fill="#bfff40"/><rect x="754.6" y="1083.09" width="41" height="9.23" fill="#cfff30"/><rect x="754.6" y="1074.45" width="41" height="9.23" fill="#dfff20"/><rect x="754.6" y="1065.82" width="41" height="9.23" fill="#efff10"/><rect x="754.6" y="1057.19" width="41" height="9.23" fill="#ffff00"/><rect x="754.6" y="1048.55" width="41" height="9.23" fill="#ffef00"/><rect x="754.6" y="1039.92" width="41" height="9.23" fill="#ffdf00"/><rect x="754.6" y="1031.29" width="41" height="9.23" fill="#ffcf00"/><rect x="754.6" y="1022.66" width="41" height="9.23" fill="#ffbf00"/><rect x="754.6" y="1014.02" width="41" height="9.23" fill="#ffaf00"/><rect x="754.6" y="1005.39" width="41" height="9.23" fill="#ff9f00"/><rect x="754.6" y="996.76" width="41" height="9.23" fill="#ff8f00"/><rect x="754.6" y="988.12" width="41" height="9.23" fill="#ff8000"/><rect x="754.6" y="979.49" width="41" height="9.23" fill="#ff7000"/><rect x="754.6" y="970.86" width="41" height="9.23" fill="#ff6000"/><rect x="754.6" y="962.23" width="41" height="9.23" fill="#ff5000"/><rect x="754.6" y="953.59" width="41" height="9.23" fill="#ff4000"/><rect x="754.6" y="944.96" width="41" height="9.23" fill="#ff3000"/><rect x="754.6" y="936.33" width="41" height="9.23" fill="#ff2000"/><rect x="754.6" y="927.7" width="41" height="9.23" fill="#ff1000"/><rect x="754.6" y="919.06" width="41" height="9.23" fill="#ff0000"/><rect x="754.6" y="910.43" width="41" height="9.23" fill="#ef0000"/><rect x="754.6" y="901.8" width="41" height="9.23" fill="#df0000"/><rect x="754.6" y="893.16" width="41" height="9.23" fill="#cf0000"/><rect x="754.6" y="884.53" width="41" height="9.23" fill="#bf0000"/><rect x="754.6" y="875.9" width="41" height="9.23" fill="#af0000"/><rect x="754.6" y="867.27" width="41" height="9.23" fill="#9f0000"/><rect x="754.6" y="858.63" width="41" height="9.23" fill="#8f0000"/><rect x="754.6" y="850" width="41" height="9.23" fill="#800000"/></g>
<rect x="755.25" y="850.95" width="39.7" height="550.6" fill="none" stroke="#000" stroke-width="1.9"/>
<line x1="787.8" y1="868.5" x2="794.95" y2="868.5" stroke="#000" stroke-width="1.3" stroke-linecap="butt"/>
<line x1="787.8" y1="970" x2="794.95" y2="970" stroke="#000" stroke-width="1.3" stroke-linecap="butt"/>
<line x1="787.8" y1="1071" x2="794.95" y2="1071" stroke="#000" stroke-width="1.3" stroke-linecap="butt"/>
<line x1="787.8" y1="1172.6" x2="794.95" y2="1172.6" stroke="#000" stroke-width="1.3" stroke-linecap="butt"/>
<line x1="787.8" y1="1274.3" x2="794.95" y2="1274.3" stroke="#000" stroke-width="1.3" stroke-linecap="butt"/>
<line x1="787.8" y1="1375.7" x2="794.95" y2="1375.7" stroke="#000" stroke-width="1.3" stroke-linecap="butt"/>
<line x1="1183.5" y1="1375.82" x2="1470.2" y2="1259.32" stroke="#d9d9d9" stroke-width="1.8" stroke-linecap="butt"/>
<line x1="1470.2" y1="1259.32" x2="1470.2" y2="929.02" stroke="#d9d9d9" stroke-width="1.8" stroke-linecap="butt"/>
<line x1="1436.85" y1="1393.05" x2="1216.85" y2="1242.1" stroke="#d9d9d9" stroke-width="1.8" stroke-linecap="butt"/>
<line x1="1216.85" y1="1242.1" x2="1216.85" y2="911.8" stroke="#d9d9d9" stroke-width="1.8" stroke-linecap="butt"/>
<polyline points="1073.5,1190.25 1360.2,1073.75 1580.2,1224.7" fill="none" stroke="#d9d9d9" stroke-width="1.8" stroke-linejoin="miter"/>
<polyline points="1073.5,1080.15 1360.2,963.65 1580.2,1114.6" fill="none" stroke="#d9d9d9" stroke-width="1.8" stroke-linejoin="miter"/>
<g shape-rendering="crispEdges">
<polygon points="1479.1,1270.6 1451.77,1255.62 1497.67,1247.14" fill="url(#g22)"/>
<polygon points="1479.1,1270.6 1497.67,1247.14 1525,1262.1" fill="url(#g23)"/>
<polygon points="1451.77,1255.62 1424.45,1239.96 1470.35,1231.34" fill="url(#g24)"/>
<polygon points="1451.77,1255.62 1470.35,1231.34 1497.67,1247.14" fill="url(#g25)"/>
<polygon points="1424.45,1239.96 1397.12,1223.79 1443.03,1214.94" fill="url(#g26)"/>
<polygon points="1424.45,1239.96 1443.03,1214.94 1470.35,1231.34" fill="url(#g27)"/>
<polygon points="1397.12,1223.79 1369.8,1207.2 1415.7,1198.1" fill="url(#g28)"/>
<polygon points="1397.12,1223.79 1415.7,1198.1 1443.03,1214.94" fill="url(#g29)"/>
<polygon points="1433.2,1274.1 1405.88,1260.44 1451.77,1255.62" fill="url(#g30)"/>
<polygon points="1433.2,1274.1 1451.77,1255.62 1479.1,1270.6" fill="url(#g31)"/>
<polygon points="1405.88,1260.44 1378.55,1245.92 1424.45,1239.96" fill="url(#g32)"/>
<polygon points="1405.88,1260.44 1424.45,1239.96 1451.77,1255.62" fill="url(#g33)"/>
<polygon points="1378.55,1245.92 1351.23,1230.72 1397.12,1223.79" fill="url(#g34)"/>
<polygon points="1378.55,1245.92 1397.12,1223.79 1424.45,1239.96" fill="url(#g35)"/>
<polygon points="1351.23,1230.72 1323.9,1215 1369.8,1207.2" fill="url(#g36)"/>
<polygon points="1351.23,1230.72 1369.8,1207.2 1397.12,1223.79" fill="url(#g37)"/>
<polygon points="1387.3,1266.5 1359.97,1255.1 1405.88,1260.44" fill="url(#g38)"/>
<polygon points="1387.3,1266.5 1405.88,1260.44 1433.2,1274.1" fill="url(#g39)"/>
<polygon points="1359.97,1255.1 1332.65,1242.44 1378.55,1245.92" fill="url(#g40)"/>
<polygon points="1359.97,1255.1 1378.55,1245.92 1405.88,1260.44" fill="url(#g41)"/>
<polygon points="1332.65,1242.44 1305.33,1228.81 1351.23,1230.72" fill="url(#g42)"/>
<polygon points="1332.65,1242.44 1351.23,1230.72 1378.55,1245.92" fill="url(#g43)"/>
<polygon points="1305.33,1228.81 1278,1214.4 1323.9,1215" fill="url(#g44)"/>
<polygon points="1305.33,1228.81 1323.9,1215 1351.23,1230.72" fill="url(#g45)"/>
<polygon points="1341.4,1233 1314.08,1226.06 1359.97,1255.1" fill="url(#g46)"/>
<polygon points="1341.4,1233 1359.97,1255.1 1387.3,1266.5" fill="url(#g47)"/>
<polygon points="1314.08,1226.06 1286.75,1217.2 1332.65,1242.44" fill="url(#g48)"/>
<polygon points="1314.08,1226.06 1332.65,1242.44 1359.97,1255.1" fill="url(#g49)"/>
<polygon points="1286.75,1217.2 1259.43,1206.84 1305.33,1228.81" fill="url(#g50)"/>
<polygon points="1286.75,1217.2 1305.33,1228.81 1332.65,1242.44" fill="url(#g51)"/>
<polygon points="1259.43,1206.84 1232.1,1195.3 1278,1214.4" fill="url(#g52)"/>
<polygon points="1259.43,1206.84 1278,1214.4 1305.33,1228.81" fill="url(#g53)"/>
<polygon points="1295.5,1099.6 1268.17,1103.76 1314.08,1226.06" fill="url(#g54)"/>
<polygon points="1295.5,1099.6 1314.08,1226.06 1341.4,1233" fill="url(#g55)"/>
<polygon points="1268.17,1103.76 1240.85,1104.5 1286.75,1217.2" fill="url(#g56)"/>
<polygon points="1268.17,1103.76 1286.75,1217.2 1314.08,1226.06" fill="url(#g57)"/>
<polygon points="1240.85,1104.5 1213.53,1102.54 1259.43,1206.84" fill="url(#g58)"/>
<polygon points="1240.85,1104.5 1259.43,1206.84 1286.75,1217.2" fill="url(#g59)"/>
<polygon points="1213.53,1102.54 1186.2,1098.4 1232.1,1195.3" fill="url(#g60)"/>
<polygon points="1213.53,1102.54 1232.1,1195.3 1259.43,1206.84" fill="url(#g61)"/>
</g>
<polyline points="1073.5,1300.35 1360.2,1183.85 1580.2,1334.8" fill="none" stroke="#000" stroke-width="1.35" stroke-linejoin="miter"/>
<polyline points="1073.5,970.05 1360.2,853.55 1580.2,1004.5" fill="none" stroke="#000" stroke-width="1.35" stroke-linejoin="miter"/>
<line x1="1360.2" y1="1183.85" x2="1360.2" y2="853.55" stroke="#000" stroke-width="1.35" stroke-linecap="butt"/>
<line x1="1580.2" y1="1334.8" x2="1580.2" y2="1004.5" stroke="#222" stroke-width="1.5" stroke-linecap="butt"/>
<line x1="1073.5" y1="1300.35" x2="1073.5" y2="969.45" stroke="#000" stroke-width="2.6" stroke-linecap="butt"/>
<polyline points="1073.5,1300.35 1293.5,1451.3 1580.2,1334.8" fill="none" stroke="#000" stroke-width="2.2" stroke-linejoin="miter"/>
<line x1="1073.5" y1="1300.35" x2="1065.6" y2="1295.15" stroke="#000" stroke-width="1.9" stroke-linecap="butt"/>
<line x1="1073.5" y1="1190.25" x2="1065.6" y2="1185.05" stroke="#000" stroke-width="1.9" stroke-linecap="butt"/>
<line x1="1073.5" y1="1080.15" x2="1065.6" y2="1074.95" stroke="#000" stroke-width="1.9" stroke-linecap="butt"/>
<line x1="1073.5" y1="970.05" x2="1065.6" y2="964.85" stroke="#000" stroke-width="1.9" stroke-linecap="butt"/>
<line x1="1293.5" y1="1451.3" x2="1285.1" y2="1454.9" stroke="#000" stroke-width="1.9" stroke-linecap="butt"/>
<line x1="1183.5" y1="1375.82" x2="1175.1" y2="1379.42" stroke="#000" stroke-width="1.9" stroke-linecap="butt"/>
<line x1="1073.5" y1="1300.35" x2="1065.1" y2="1303.95" stroke="#000" stroke-width="1.9" stroke-linecap="butt"/>
<line x1="1293.5" y1="1451.3" x2="1301" y2="1456.7" stroke="#000" stroke-width="1.9" stroke-linecap="butt"/>
<line x1="1436.85" y1="1393.05" x2="1444.35" y2="1398.45" stroke="#000" stroke-width="1.9" stroke-linecap="butt"/>
<line x1="1580.2" y1="1334.8" x2="1587.7" y2="1340.2" stroke="#000" stroke-width="1.9" stroke-linecap="butt"/>
<text transform="translate(1039.52 1302.35) scale(0.975 1.000)" font-size="36.8" font-weight="bold">0</text>
<text transform="translate(1021.58 1192.25) scale(0.975 1.000)" font-size="36.8" font-weight="bold">10</text>
<text transform="translate(1021.58 1082.15) scale(0.975 1.000)" font-size="36.8" font-weight="bold">20</text>
<text transform="translate(1021.58 972.05) scale(0.975 1.000)" font-size="36.8" font-weight="bold">30</text>
<text transform="translate(1009.56 1341.05) scale(0.975 1.000)" font-size="36.8" font-weight="bold">0.2</text>
<text transform="translate(1101.4 1416.52) scale(0.975 1.000)" font-size="36.8" font-weight="bold">0.15</text>
<text transform="translate(1229.92 1492) scale(0.975 1.000)" font-size="36.8" font-weight="bold">0.1</text>
<text transform="translate(1308.74 1495.9) scale(0.975 1.000)" font-size="36.8" font-weight="bold">0</text>
<text transform="translate(1452.09 1437.65) scale(0.975 1.000)" font-size="36.8" font-weight="bold">0.005</text>
<text transform="translate(1595.44 1379.4) scale(0.975 1.000)" font-size="36.8" font-weight="bold">0.01</text>
<text transform="translate(1710.34 928.2) scale(0.975 1.000)" font-size="33.3" font-weight="bold">25</text>
<text transform="translate(1710.34 1051.4) scale(0.975 1.000)" font-size="33.3" font-weight="bold">20</text>
<text transform="translate(1709.1 1174.5) scale(0.975 1.000)" font-size="33.3" font-weight="bold">15</text>
<text transform="translate(1709.1 1297.8) scale(0.975 1.000)" font-size="33.3" font-weight="bold">10</text>
<text transform="translate(1710.4 1421.1) scale(0.975 1.000)" font-size="33.3" font-weight="bold">5</text>
<text transform="translate(1090.2 1503.67) scale(0.921 1)" font-size="43.36" font-style="italic">δ</text>
<text transform="translate(1109.24 1522) scale(0.979 1)" font-size="31.36" font-weight="bold">1</text>
<text transform="translate(1496.87 1512.29) scale(1.389 1)" font-size="41.07" font-style="italic">γ</text>
<text transform="translate(986.6 1158.11) rotate(-90) scale(1.058 1)" font-size="40.83" font-weight="bold" font-style="italic">R</text>
<text transform="translate(1006 1128.93) rotate(-90) scale(1.001 1)" font-size="30.33" font-weight="bold" font-style="italic">0</text>
<text transform="translate(1333.17 1569.7) scale(1.004 1)" font-size="41.5" >(d)</text>
<g shape-rendering="crispEdges"><rect x="1663.8" y="1441.15" width="38" height="9.95" fill="#00008f"/><rect x="1663.8" y="1431.8" width="38" height="9.95" fill="#00009f"/><rect x="1663.8" y="1422.45" width="38" height="9.95" fill="#0000af"/><rect x="1663.8" y="1413.09" width="38" height="9.95" fill="#0000bf"/><rect x="1663.8" y="1403.74" width="38" height="9.95" fill="#0000cf"/><rect x="1663.8" y="1394.39" width="38" height="9.95" fill="#0000df"/><rect x="1663.8" y="1385.04" width="38" height="9.95" fill="#0000ef"/><rect x="1663.8" y="1375.69" width="38" height="9.95" fill="#0000ff"/><rect x="1663.8" y="1366.34" width="38" height="9.95" fill="#0010ff"/><rect x="1663.8" y="1356.98" width="38" height="9.95" fill="#0020ff"/><rect x="1663.8" y="1347.63" width="38" height="9.95" fill="#0030ff"/><rect x="1663.8" y="1338.28" width="38" height="9.95" fill="#0040ff"/><rect x="1663.8" y="1328.93" width="38" height="9.95" fill="#0050ff"/><rect x="1663.8" y="1319.58" width="38" height="9.95" fill="#0060ff"/><rect x="1663.8" y="1310.23" width="38" height="9.95" fill="#0070ff"/><rect x="1663.8" y="1300.88" width="38" height="9.95" fill="#0080ff"/><rect x="1663.8" y="1291.52" width="38" height="9.95" fill="#008fff"/><rect x="1663.8" y="1282.17" width="38" height="9.95" fill="#009fff"/><rect x="1663.8" y="1272.82" width="38" height="9.95" fill="#00afff"/><rect x="1663.8" y="1263.47" width="38" height="9.95" fill="#00bfff"/><rect x="1663.8" y="1254.12" width="38" height="9.95" fill="#00cfff"/><rect x="1663.8" y="1244.77" width="38" height="9.95" fill="#00dfff"/><rect x="1663.8" y="1235.41" width="38" height="9.95" fill="#00efff"/><rect x="1663.8" y="1226.06" width="38" height="9.95" fill="#00ffff"/><rect x="1663.8" y="1216.71" width="38" height="9.95" fill="#10ffef"/><rect x="1663.8" y="1207.36" width="38" height="9.95" fill="#20ffdf"/><rect x="1663.8" y="1198.01" width="38" height="9.95" fill="#30ffcf"/><rect x="1663.8" y="1188.66" width="38" height="9.95" fill="#40ffbf"/><rect x="1663.8" y="1179.3" width="38" height="9.95" fill="#50ffaf"/><rect x="1663.8" y="1169.95" width="38" height="9.95" fill="#60ff9f"/><rect x="1663.8" y="1160.6" width="38" height="9.95" fill="#70ff8f"/><rect x="1663.8" y="1151.25" width="38" height="9.95" fill="#80ff80"/><rect x="1663.8" y="1141.9" width="38" height="9.95" fill="#8fff70"/><rect x="1663.8" y="1132.55" width="38" height="9.95" fill="#9fff60"/><rect x="1663.8" y="1123.2" width="38" height="9.95" fill="#afff50"/><rect x="1663.8" y="1113.84" width="38" height="9.95" fill="#bfff40"/><rect x="1663.8" y="1104.49" width="38" height="9.95" fill="#cfff30"/><rect x="1663.8" y="1095.14" width="38" height="9.95" fill="#dfff20"/><rect x="1663.8" y="1085.79" width="38" height="9.95" fill="#efff10"/><rect x="1663.8" y="1076.44" width="38" height="9.95" fill="#ffff00"/><rect x="1663.8" y="1067.09" width="38" height="9.95" fill="#ffef00"/><rect x="1663.8" y="1057.73" width="38" height="9.95" fill="#ffdf00"/><rect x="1663.8" y="1048.38" width="38" height="9.95" fill="#ffcf00"/><rect x="1663.8" y="1039.03" width="38" height="9.95" fill="#ffbf00"/><rect x="1663.8" y="1029.68" width="38" height="9.95" fill="#ffaf00"/><rect x="1663.8" y="1020.33" width="38" height="9.95" fill="#ff9f00"/><rect x="1663.8" y="1010.98" width="38" height="9.95" fill="#ff8f00"/><rect x="1663.8" y="1001.62" width="38" height="9.95" fill="#ff8000"/><rect x="1663.8" y="992.27" width="38" height="9.95" fill="#ff7000"/><rect x="1663.8" y="982.92" width="38" height="9.95" fill="#ff6000"/><rect x="1663.8" y="973.57" width="38" height="9.95" fill="#ff5000"/><rect x="1663.8" y="964.22" width="38" height="9.95" fill="#ff4000"/><rect x="1663.8" y="954.87" width="38" height="9.95" fill="#ff3000"/><rect x="1663.8" y="945.52" width="38" height="9.95" fill="#ff2000"/><rect x="1663.8" y="936.16" width="38" height="9.95" fill="#ff1000"/><rect x="1663.8" y="926.81" width="38" height="9.95" fill="#ff0000"/><rect x="1663.8" y="917.46" width="38" height="9.95" fill="#ef0000"/><rect x="1663.8" y="908.11" width="38" height="9.95" fill="#df0000"/><rect x="1663.8" y="898.76" width="38" height="9.95" fill="#cf0000"/><rect x="1663.8" y="889.41" width="38" height="9.95" fill="#bf0000"/><rect x="1663.8" y="880.05" width="38" height="9.95" fill="#af0000"/><rect x="1663.8" y="870.7" width="38" height="9.95" fill="#9f0000"/><rect x="1663.8" y="861.35" width="38" height="9.95" fill="#8f0000"/><rect x="1663.8" y="852" width="38" height="9.95" fill="#800000"/></g>
<rect x="1664.45" y="852.95" width="36.7" height="596.6" fill="none" stroke="#000" stroke-width="1.9"/>
<line x1="1694" y1="916.4" x2="1701.15" y2="916.4" stroke="#000" stroke-width="1.3" stroke-linecap="butt"/>
<line x1="1694" y1="1039.6" x2="1701.15" y2="1039.6" stroke="#000" stroke-width="1.3" stroke-linecap="butt"/>
<line x1="1694" y1="1162.7" x2="1701.15" y2="1162.7" stroke="#000" stroke-width="1.3" stroke-linecap="butt"/>
<line x1="1694" y1="1286" x2="1701.15" y2="1286" stroke="#000" stroke-width="1.3" stroke-linecap="butt"/>
<line x1="1694" y1="1409.3" x2="1701.15" y2="1409.3" stroke="#000" stroke-width="1.3" stroke-linecap="butt"/>
</svg>
</body></html>
